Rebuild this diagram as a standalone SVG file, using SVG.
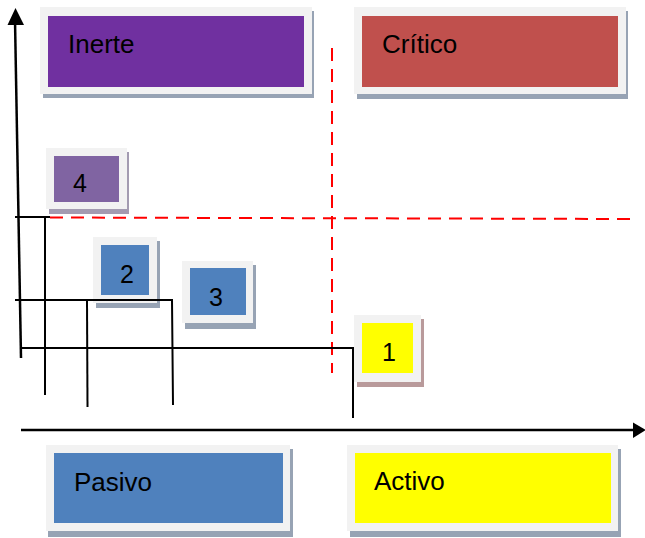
<svg xmlns="http://www.w3.org/2000/svg" width="645" height="538" viewBox="0 0 645 538">
  <defs>
    <style>
      .frame { fill: #f2f2f2; }
      .shadow { fill: #97a3b4; }
      .lbl { font-family: "Liberation Sans", Arial, sans-serif; font-size: 26px; fill: #000; }
      .num { font-family: "Liberation Sans", Arial, sans-serif; font-size: 25px; fill: #000; }
      .axis { stroke: #000; stroke-width: 2.5; fill: none; }
      .guide { stroke: #000; stroke-width: 2; fill: none; }
      .dash { stroke: #ff0000; stroke-width: 2; stroke-dasharray: 13 8; fill: none; }
    </style>
  </defs>
  <rect width="645" height="538" fill="#ffffff"/>

  <g id="inerte">
    <rect class="shadow" x="43" y="11" width="271" height="87"/>
    <rect class="frame" x="40" y="7" width="272" height="87"/>
    <rect x="48" y="16" width="256" height="71" fill="#7030a0"/>
    <text class="lbl" x="68" y="53">Inerte</text>
  </g>

  <g id="critico">
    <rect class="shadow" x="357" y="11" width="271" height="88"/>
    <rect class="frame" x="354" y="7" width="272" height="87"/>
    <rect x="362" y="16" width="256" height="71" fill="#c0504d"/>
    <text class="lbl" x="382" y="53">Crítico</text>
  </g>

  <g id="n4">
    <rect x="49" y="152" width="80" height="62" fill="#a39bb1"/>
    <rect class="frame" x="46" y="148" width="81" height="61"/>
    <rect x="54" y="156" width="65" height="46" fill="#8064a2"/>
    <text class="num" x="73" y="192">4</text>
  </g>

  <g id="n2">
    <rect class="shadow" x="96" y="241" width="64" height="67"/>
    <rect class="frame" x="93" y="237" width="64" height="66"/>
    <rect x="101" y="245" width="48" height="50" fill="#4f81bd"/>
    <text class="num" x="120" y="283">2</text>
  </g>

  <g id="n3">
    <rect class="shadow" x="185" y="265" width="71" height="64"/>
    <rect class="frame" x="182" y="261" width="71" height="62"/>
    <rect x="190" y="268" width="56" height="47" fill="#4f81bd"/>
    <text class="num" x="209" y="306">3</text>
  </g>

  <g id="n1">
    <rect x="357" y="319" width="67" height="68" fill="#b99a9b"/>
    <rect class="frame" x="354" y="315" width="67" height="67"/>
    <rect x="362" y="323" width="51" height="50" fill="#ffff00"/>
    <text class="num" x="382" y="361">1</text>
  </g>

  <g id="pasivo">
    <rect class="shadow" x="48" y="449" width="245" height="88"/>
    <rect class="frame" x="46" y="445" width="244" height="86"/>
    <rect x="54" y="453" width="229" height="70" fill="#4f81bd"/>
    <text class="lbl" x="74" y="491">Pasivo</text>
  </g>

  <g id="activo">
    <rect class="shadow" x="350" y="449" width="271" height="88"/>
    <rect class="frame" x="347" y="445" width="271" height="86"/>
    <rect x="355" y="453" width="256" height="70" fill="#ffff00"/>
    <text class="lbl" x="374" y="490">Activo</text>
  </g>

  <!-- connectors: axes, guide lines, dashed quadrant split (drawn over the boxes) -->
  <g id="connectors">
    <line class="axis" x1="15" y1="20" x2="21" y2="358"/>
    <polygon points="15.5,8 7.5,25 24,25" fill="#000"/>
    <line class="axis" x1="21" y1="430" x2="636" y2="430"/>
    <polygon points="646,430 633,422.5 633,438" fill="#000"/>

    <line class="dash" x1="332" y1="48" x2="332" y2="373"/>
    <line class="dash" x1="50" y1="217.5" x2="630" y2="219"/>
    <line class="guide" x1="15" y1="217" x2="50" y2="217"/>
    <line class="guide" x1="45" y1="217" x2="45" y2="395"/>

    <polyline class="guide" points="15,300 172,300 173,405"/>
    <line class="guide" x1="87" y1="301" x2="87.5" y2="407"/>

    <polyline class="guide" points="21,348 353,348 353,418"/>
  </g>
</svg>
